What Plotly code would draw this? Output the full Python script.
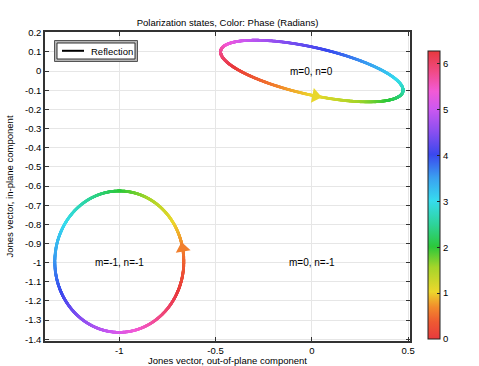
import numpy as np
import plotly.graph_objects as go

# ---- data ----
order_labels = ["m=0, n=0", "m=-1, n=-1", "m=0, n=-1"]
label_x = [0.0, -1.0, 0.0]
label_y = [0.0, -1.0, -1.0]

# Jones vector of each drawn state: centre, amplitude and phase of each component
centre_x = [0.0, -1.0]
centre_y = [0.0, -0.995]
amp_out = [0.474, 0.335]      # out-of-plane component amplitude
phase_out = [2.60, 0.43]      # out-of-plane component phase (rad)
amp_in = [0.161, 0.369]       # in-plane component amplitude
phase_in = [4.84, 2.00]       # in-plane component phase (rad)
arrow_phase = [1.07, 0.62]    # phase at which the direction arrow sits

legend_name = "Reflection"

y_ticks = [0.2, 0.1, 0, -0.1, -0.2, -0.3, -0.4, -0.5, -0.6, -0.7, -0.8, -0.9,
           -1, -1.1, -1.2, -1.3, -1.4]
x_ticks = [-1, -0.5, 0, 0.5]
cbar_ticks = [0, 1, 2, 3, 4, 5, 6]

cyclic = [
    [0.00, "#e8393d"], [0.06, "#ee5a32"], [0.11, "#f28a2c"], [0.165, "#ecd72c"],
    [0.25, "#a4d52a"], [0.32, "#2cc83a"], [0.40, "#2ed49c"], [0.48, "#36dcee"],
    [0.56, "#3aa0f0"], [0.64, "#3a48ee"], [0.72, "#8a4ff0"], [0.80, "#cd58f0"],
    [0.86, "#f25ad6"], [0.93, "#f04a84"], [1.00, "#e8393d"],
]

# plot-area geometry (pixels)
W, H = 479, 366
PL, PR, PT, PB = 45, 410, 32, 341


def px(xp):
    return (xp - PL) / (PR - PL)


def py(yp):
    return (PB - yp) / (PB - PT)


fig = go.Figure()

theta = np.linspace(0, 2 * np.pi, 1400)
for i in range(len(centre_x)):
    xs = centre_x[i] + amp_out[i] * np.cos(theta - phase_out[i])
    ys = centre_y[i] + amp_in[i] * np.cos(theta - phase_in[i])
    fig.add_trace(go.Scatter(
        x=xs, y=ys, mode="markers", showlegend=False, hoverinfo="skip",
        marker=dict(size=2.8, color=theta, coloraxis="coloraxis", line=dict(width=0)),
    ))
    # arrow
    t = arrow_phase[i]
    ax_ = centre_x[i] + amp_out[i] * np.cos(t - phase_out[i])
    ay_ = centre_y[i] + amp_in[i] * np.cos(t - phase_in[i])
    dx = -amp_out[i] * np.sin(t - phase_out[i])
    dy = -amp_in[i] * np.sin(t - phase_in[i])
    ang = 90 - np.degrees(np.arctan2(dy, dx))
    fig.add_trace(go.Scatter(
        x=[ax_], y=[ay_], mode="markers", showlegend=False, hoverinfo="skip",
        marker=dict(symbol="triangle-up", size=13, angle=ang, color=[t],
                    coloraxis="coloraxis", line=dict(width=0)),
    ))

for lx, ly, lt in zip(label_x, label_y, order_labels):
    fig.add_annotation(x=lx, y=ly, text=lt, showarrow=False,
                       font=dict(size=10, color="black"))

# legend box drawn by hand (COMSOL style framed box)
fig.add_shape(type="rect", xref="paper", yref="paper",
              x0=px(54.5), x1=px(137.5), y0=py(61.5), y1=py(40.5),
              line=dict(color="#555", width=1), fillcolor="#b5b5b5", layer="above")
fig.add_shape(type="rect", xref="paper", yref="paper",
              x0=px(57), x1=px(135), y0=py(59), y1=py(43),
              line=dict(color="#333", width=1), fillcolor="white", layer="above")
fig.add_shape(type="line", xref="paper", yref="paper",
              x0=px(62), x1=px(84), y0=py(50.8), y1=py(50.8),
              line=dict(color="black", width=2), layer="above")
fig.add_annotation(xref="paper", yref="paper", x=px(89), y=py(51),
                   xanchor="left", yanchor="middle", text=legend_name,
                   showarrow=False, font=dict(size=9.5, color="black"))

axis_common = dict(showgrid=True, gridcolor="#e6e6e6", gridwidth=1,
                   showline=True, linecolor="#333", linewidth=1.5,
                   ticks="inside", ticklen=4, tickcolor="#333", mirror="allticks",
                   zeroline=False, automargin=False,
                   tickfont=dict(size=9.5, color="black"))

fig.update_xaxes(range=[-1.386, 0.51], tickvals=x_ticks,
                 ticktext=[str(v) for v in x_ticks],
                 title=dict(text="Jones vector, out-of-plane component",
                            font=dict(size=9.5, color="black"), standoff=3),
                 **axis_common)
fig.update_yaxes(range=[-1.409, 0.204], tickvals=y_ticks,
                 ticktext=[("%g" % v) for v in y_ticks],
                 title=dict(text="Jones vector, in-plane component",
                            font=dict(size=9.5, color="black"), standoff=10),
                 **axis_common)

fig.update_layout(
    width=W, height=H,
    margin=dict(l=PL, r=W - PR, t=PT, b=H - PB),
    paper_bgcolor="white", plot_bgcolor="white",
    font=dict(family="Liberation Sans, Arial, sans-serif", size=10, color="black"),
    title=dict(text="Polarization states, Color: Phase (Radians)",
               x=0.475, xanchor="center", y=0.937, yanchor="middle",
               font=dict(size=9.5, color="black")),
    coloraxis=dict(
        colorscale=cyclic, cmin=0, cmax=2 * np.pi,
        colorbar=dict(x=px(428), xanchor="left", y=py(339), yanchor="bottom",
                      len=py(51) - py(339), lenmode="fraction", thickness=12,
                      outlinecolor="#222", outlinewidth=1,
                      tickvals=cbar_ticks, ticks="inside", ticklen=3,
                      tickcolor="#222", tickfont=dict(size=9.5, color="black"),
                      xpad=0, ypad=0),
    ),
    showlegend=False,
)

fig.write_html("out.html", config={"displayModeBar": False},
               post_script="document.body.style.margin='0px';"
                           "document.body.style.overflow='hidden';")
